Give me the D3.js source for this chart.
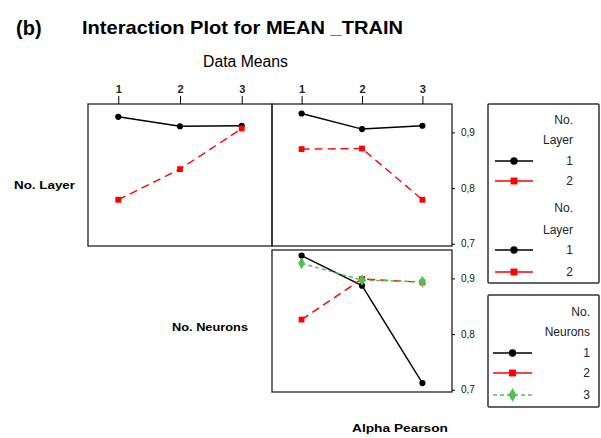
<!DOCTYPE html>
<html>
<head>
<meta charset="utf-8">
<script src="https://cdn.jsdelivr.net/npm/d3@7"></script>
<style>
  body { margin: 0; background: #fff; }
  text { font-family: "Liberation Sans", Arial, sans-serif; }
</style>
</head>
<body>
<svg width="601" height="438"></svg>
<script>
// levels on the x axis and y ticks
const levels = [1, 2, 3];
const yTicks = [0.7, 0.8, 0.9];

// top-left: x = No. Neurons, lines = No. Layer
const neuronsLayer1 = [0.928, 0.911, 0.912];
const neuronsLayer2 = [0.779, 0.834, 0.907];
// top-right: x = Alpha Pearson, lines = No. Layer
const alphaLayer1 = [0.934, 0.906, 0.912];
const alphaLayer2 = [0.870, 0.871, 0.779];
// bottom-right: x = Alpha Pearson, lines = No. Neurons
const alphaNeurons1 = [0.941, 0.887, 0.712];
const alphaNeurons2 = [0.826, 0.899, 0.893];
const alphaNeurons3 = [0.927, 0.897, 0.894];

const svg = d3.select("svg");

const styles = [
  { color: "#000", dash: null, legendDash: null, shape: d3.symbolCircle, size: 30 },
  { color: "#ff0000", dash: "8,5", legendDash: null, shape: d3.symbolSquare, size: 34 },
  { color: "#4cc44c", dash: "4,3", legendDash: "4,3", shape: d3.symbolDiamond, size: 40 }
];

const locale = d3.formatLocale({ decimal: ",", thousands: ".", grouping: [3], currency: ["", ""] });
const fmt = locale.format(".1f");

const cols = [{ x0: 88, x1: 272 }, { x0: 272, x1: 452 }];
const rows = [{ y0: 104, y1: 246 }, { y0: 250, y1: 392 }];

const panels = [
  { col: 0, row: 0, series: [neuronsLayer1, neuronsLayer2] },
  { col: 1, row: 0, series: [alphaLayer1, alphaLayer2] },
  { col: 1, row: 1, series: [alphaNeurons1, alphaNeurons2, alphaNeurons3] }
];

panels.forEach((p) => {
  const c = cols[p.col], r = rows[p.row];
  const x = d3.scalePoint().domain(levels).range([c.x0, c.x1]).padding(0.49);
  const y = d3.scaleLinear().domain([0.696, 0.951]).range([r.y1, r.y0]);

  const g = svg.append("g");
  g.append("rect")
    .attr("x", c.x0).attr("y", r.y0)
    .attr("width", c.x1 - c.x0).attr("height", r.y1 - r.y0)
    .attr("fill", "none").attr("stroke", "#222").attr("stroke-width", 1.3);

  p.series.forEach((vals, i) => {
    const s = styles[i];
    const pts = levels.map((l, j) => [x(l), y(vals[j])]);
    g.append("path")
      .attr("d", d3.line()(pts))
      .attr("fill", "none")
      .attr("stroke", s.color)
      .attr("stroke-width", 1.4)
      .attr("stroke-dasharray", s.dash);
    g.selectAll(null)
      .data(pts)
      .enter()
      .append("path")
      .attr("transform", (d) => `translate(${d[0]},${d[1]})`)
      .attr("d", d3.symbol().type(s.shape).size(s.size))
      .attr("fill", s.color);
  });

  if (p.row === 0) {
    svg.append("g")
      .attr("transform", `translate(0,${r.y0})`)
      .call(d3.axisTop(x).tickSize(8).tickPadding(3))
      .call((a) => a.select(".domain").remove())
      .call((a) => a.selectAll("text").attr("font-size", 11).attr("font-weight", "bold").attr("fill", "#222"));
  }
  if (p.col === 1) {
    svg.append("g")
      .attr("transform", `translate(${c.x1},0)`)
      .call(d3.axisRight(y).tickValues(yTicks).tickFormat(fmt).tickSize(3).tickPadding(6))
      .call((a) => a.select(".domain").remove())
      .call((a) => a.selectAll("text").attr("font-size", 10).attr("fill", "#111"));
  }
});

// titles
svg.append("text").attr("x", 16).attr("y", 35)
  .attr("font-size", 20).attr("font-weight", "bold").text("(b)");
svg.append("text").attr("x", 82).attr("y", 34)
  .attr("font-size", 19).attr("font-weight", "bold")
  .attr("textLength", 321).attr("lengthAdjust", "spacingAndGlyphs")
  .text("Interaction Plot for MEAN _TRAIN");
svg.append("text").attr("x", 203).attr("y", 67)
  .attr("font-size", 16)
  .attr("textLength", 85).attr("lengthAdjust", "spacingAndGlyphs")
  .text("Data Means");

svg.append("text").attr("x", 14).attr("y", 189)
  .attr("font-size", 11).attr("font-weight", "bold")
  .attr("textLength", 61).attr("lengthAdjust", "spacingAndGlyphs")
  .text("No. Layer");
svg.append("text").attr("x", 172).attr("y", 331)
  .attr("font-size", 11).attr("font-weight", "bold")
  .attr("textLength", 76).attr("lengthAdjust", "spacingAndGlyphs")
  .text("No. Neurons");
svg.append("text").attr("x", 352).attr("y", 432)
  .attr("font-size", 11).attr("font-weight", "bold")
  .attr("textLength", 96).attr("lengthAdjust", "spacingAndGlyphs")
  .text("Alpha Pearson");

// legends
const legends = [
  { x0: 488, y0: 104, y1: 283, tx: 573, lx: [495, 533], items: [
      { title: ["No.", "Layer"], ty: [120, 140], labels: ["1", "2"], ly: [161, 181] },
      { title: ["No.", "Layer"], ty: [208, 230], labels: ["1", "2"], ly: [250, 272] }
    ] },
  { x0: 488, y0: 295, y1: 407, tx: 590, lx: [493, 532], items: [
      { title: ["No.", "Neurons"], ty: [312, 332], labels: ["1", "2", "3"], ly: [353, 373, 395] }
    ] }
];

legends.forEach((L) => {
  svg.append("rect")
    .attr("x", L.x0).attr("y", L.y0)
    .attr("width", 599 - L.x0).attr("height", L.y1 - L.y0)
    .attr("fill", "none").attr("stroke", "#333").attr("stroke-width", 1.5)
    .attr("rx", 1);
  const mid = (L.lx[0] + L.lx[1]) / 2;
  L.items.forEach((it) => {
    it.title.forEach((t, k) => {
      svg.append("text").attr("x", L.tx).attr("y", it.ty[k] + 4)
        .attr("text-anchor", "end").attr("font-size", 12).attr("fill", "#222").text(t);
    });
    it.labels.forEach((lab, i) => {
      const s = styles[i];
      const yy = it.ly[i];
      svg.append("line")
        .attr("x1", L.lx[0]).attr("x2", L.lx[1]).attr("y1", yy).attr("y2", yy)
        .attr("stroke", s.color).attr("stroke-width", 1.4)
        .attr("stroke-dasharray", s.legendDash);
      svg.append("path")
        .attr("transform", `translate(${mid},${yy})`)
        .attr("d", d3.symbol().type(s.shape).size(s.size * 1.4))
        .attr("fill", s.color);
      svg.append("text").attr("x", L.tx).attr("y", yy + 4)
        .attr("text-anchor", "end").attr("font-size", 12).attr("fill", "#222").text(lab);
    });
  });
});
</script>
</body>
</html>
